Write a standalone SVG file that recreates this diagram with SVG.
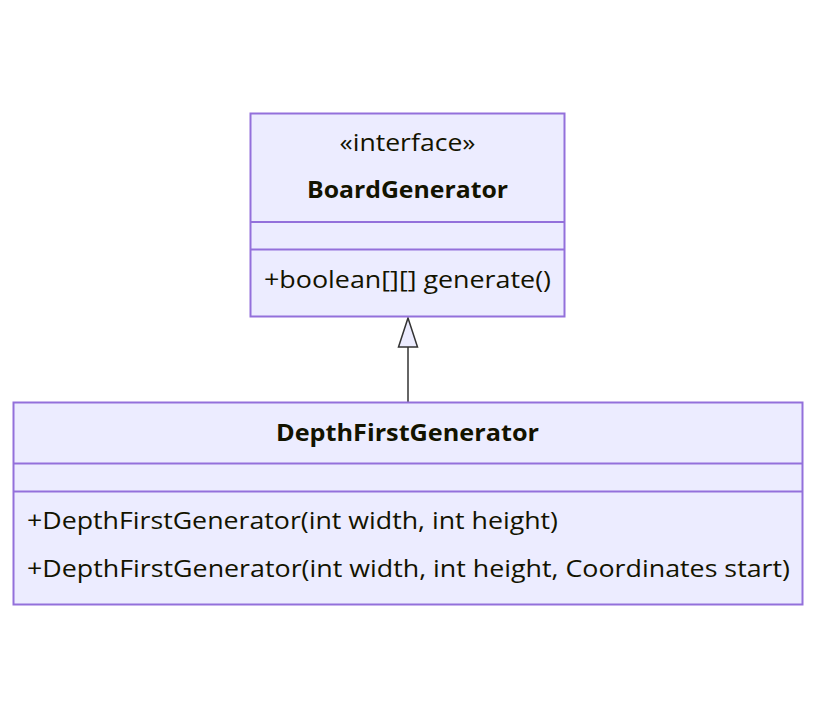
<svg xmlns="http://www.w3.org/2000/svg" width="816" height="719" viewBox="0 0 816 719">
<style>
.box{fill:#ECECFF;stroke:#9370DB;stroke-width:2}
.div{stroke:#9370DB;stroke-width:2}
text{font-family:"Open Sans","Noto Sans","Liberation Sans",sans-serif;font-size:23.5px;fill:#131300}
.b{font-weight:bold}
.c{text-anchor:middle}
.edge{stroke:#333333;stroke-width:1.5;fill:none}
</style>
<rect width="816" height="719" fill="#ffffff"/>
<g id="connectors">
<line class="edge" x1="408" y1="402" x2="408" y2="347"/>
<path d="M408,318 L417.5,347 L398.5,347 Z" fill="#ECECFF" stroke="#333333" stroke-width="1.5"/>
</g>
<g id="BoardGenerator">
<rect class="box" x="250.5" y="113.5" width="314" height="203"/>
<line class="div" x1="250.5" y1="222" x2="564.5" y2="222"/>
<line class="div" x1="250.5" y1="249.5" x2="564.5" y2="249.5"/>
<text class="c" x="407.5" y="151" textLength="136" lengthAdjust="spacingAndGlyphs">«interface»</text>
<text class="c b" x="407.5" y="198" textLength="201" lengthAdjust="spacingAndGlyphs">BoardGenerator</text>
<text x="264" y="288" textLength="287" lengthAdjust="spacingAndGlyphs">+boolean[][] generate()</text>
</g>
<g id="DepthFirstGenerator">
<rect class="box" x="13.5" y="402.5" width="789" height="202"/>
<line class="div" x1="13.5" y1="463.5" x2="802.5" y2="463.5"/>
<line class="div" x1="13.5" y1="491.5" x2="802.5" y2="491.5"/>
<text class="c b" x="407.5" y="441" textLength="263" lengthAdjust="spacingAndGlyphs">DepthFirstGenerator</text>
<text x="27" y="529" textLength="531" lengthAdjust="spacingAndGlyphs">+DepthFirstGenerator(int width, int height)</text>
<text x="27" y="577" textLength="763" lengthAdjust="spacingAndGlyphs">+DepthFirstGenerator(int width, int height, Coordinates start)</text>
</g>
</svg>
